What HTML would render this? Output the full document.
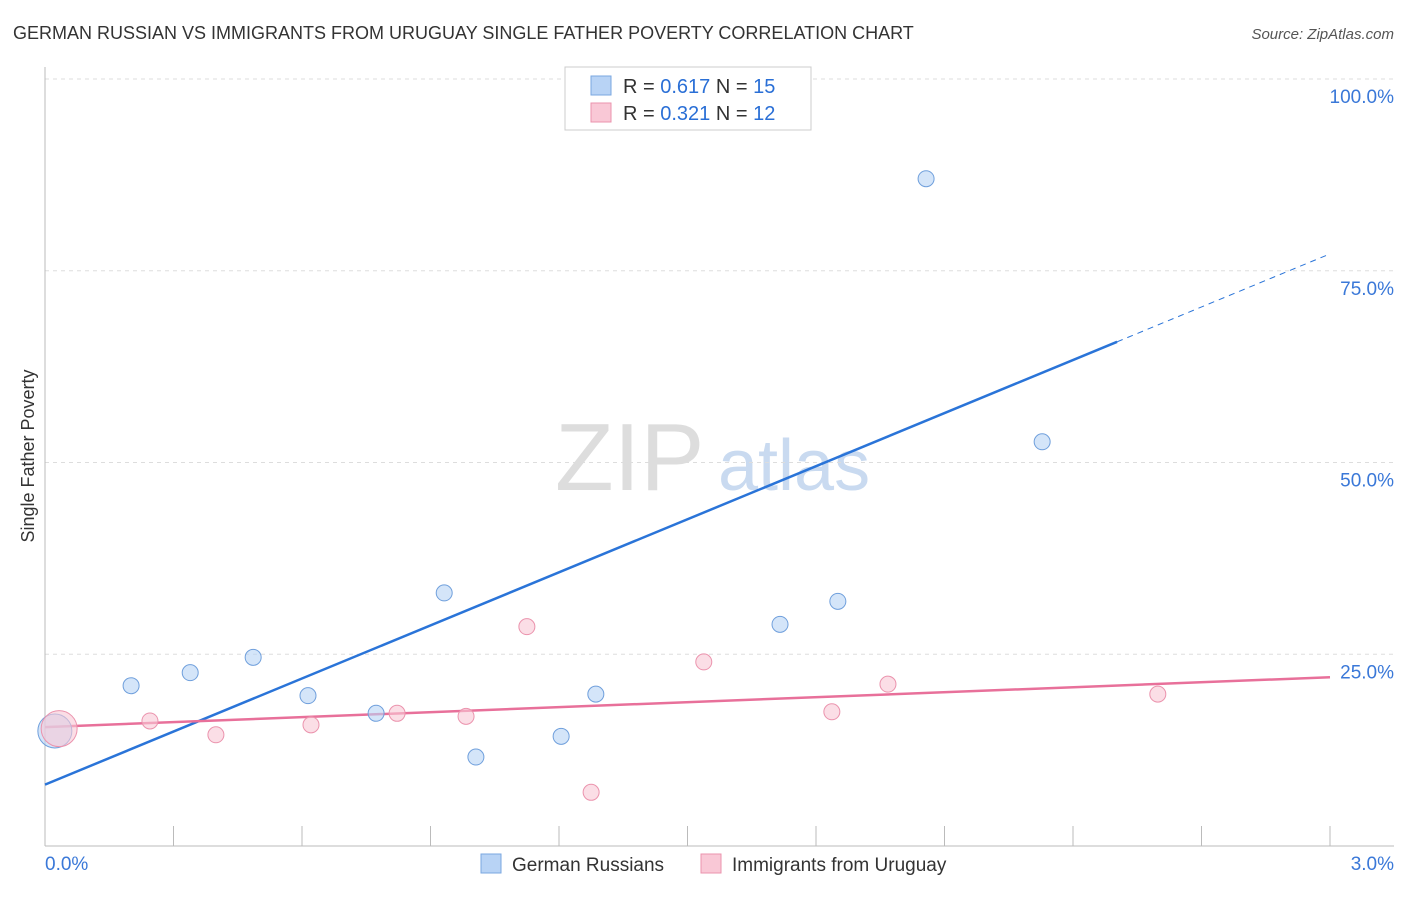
<!DOCTYPE html>
<html><head><meta charset="utf-8"><style>
body{margin:0;background:#fff;font-family:"Liberation Sans",sans-serif;}
svg text{font-family:"Liberation Sans",sans-serif;}
</style></head><body>
<svg id="chart" width="1406" height="892" xmlns="http://www.w3.org/2000/svg">
<text x="13" y="39" font-size="18" fill="#333">GERMAN RUSSIAN VS IMMIGRANTS FROM URUGUAY SINGLE FATHER POVERTY CORRELATION CHART</text>
<text x="1394" y="39" font-size="15" fill="#555" text-anchor="end" font-style="italic">Source: ZipAtlas.com</text>
<text transform="translate(34,456) rotate(-90)" font-size="18" fill="#333" text-anchor="middle">Single Father Poverty</text>
<g><text x="555" y="490" font-size="96" fill="#ddd" font-family="Liberation Serif">ZIP</text><text x="718" y="490" font-size="72" fill="#c9daf0">atlas</text></g>
<g id="grid"></g><g id="axes"></g><g id="lines"></g><g id="pts"></g>
<g>
<rect x="565" y="67" width="246" height="63" fill="#fff" stroke="#ccc"/>
<rect x="591" y="76" width="20" height="19" fill="#b8d3f5" stroke="#7aa7e0"/>
<text x="623" y="93" font-size="20" fill="#333">R = <tspan fill="#2a6fd6">0.617</tspan>   N = <tspan fill="#2a6fd6">15</tspan></text>
<rect x="591" y="103" width="20" height="19" fill="#f9c8d6" stroke="#eb93ad"/>
<text x="623" y="120" font-size="20" fill="#333">R = <tspan fill="#2a6fd6">0.321</tspan>   N = <tspan fill="#2a6fd6">12</tspan></text>
</g>
<g>
<rect x="481" y="854" width="20" height="19" fill="#b8d3f5" stroke="#7aa7e0"/>
<text x="512" y="871" font-size="19" fill="#333">German Russians</text>
<rect x="701" y="854" width="20" height="19" fill="#f9c8d6" stroke="#eb93ad"/>
<text x="732" y="871" font-size="19" fill="#333">Immigrants from Uruguay</text>
</g>
</svg>
<script>
const blueX=[0.023,0.201,0.339,0.486,0.614,0.773,0.932,1.006,1.205,1.286,1.662,1.716,1.851,2.057,2.328];
const blueY=[15.0,20.9,22.6,24.6,19.6,17.3,33.0,11.6,14.3,19.8,100,28.9,31.9,87.0,52.7];
const pinkX=[0.033,0.245,0.399,0.621,0.822,0.983,1.125,1.275,1.538,1.837,1.968,2.598];
const pinkY=[15.3,16.3,14.5,15.8,17.3,16.9,28.6,7.0,24.0,17.5,21.1,19.8];
const yTicks=[25,50,75,100];
const xTickLabels=["0.0%","3.0%"];
const blueTrend=[8.0,77.2]; const blueSolidEnd=2.503;
const pinkTrend=[15.5,22.0];
const X=v=>45+v/3*1285, Y=v=>846-v/100*767;
const NS="http://www.w3.org/2000/svg";
function mk(p,t,a){const e=document.createElementNS(NS,t);for(const k in a)e.setAttribute(k,a[k]);document.getElementById(p).appendChild(e);return e;}
yTicks.forEach(t=>{
 const l=mk('grid','line',{x1:45,x2:1394,y1:Y(t),y2:Y(t),stroke:'#ddd','stroke-dasharray':'4,4'});
 
 
 const tx=mk('grid','text',{x:1394,y:Y(t)+24,'font-size':19,fill:'#3a78d8','text-anchor':'end'});
 tx.textContent=t.toFixed(1)+'%';
 
 
});
let ax=mk('axes','line',{x1:45,x2:45,y1:67,y2:846,stroke:'#bbb'});


ax=mk('axes','line',{x1:45,x2:1394,y1:846,y2:846,stroke:'#bbb'});


for(let i=0;i<=10;i++){const tk=mk('axes','line',{x1:X(i*0.3),x2:X(i*0.3),y1:826,y2:846,stroke:'#bbb'});
 
 }
[[0,'start',45],[3,'end',1394]].forEach((d,i)=>{const t=mk('axes','text',{x:d[2],y:870,'font-size':19,fill:'#3a78d8','text-anchor':d[1]});t.textContent=xTickLabels[i];
 
 });
const slope=(blueTrend[1]-blueTrend[0])/3;
let ln=mk('lines','line',{x1:X(0),y1:Y(blueTrend[0]),x2:X(blueSolidEnd),y2:Y(blueTrend[0]+slope*blueSolidEnd),stroke:'#2a74d8','stroke-width':2.5});


ln=mk('lines','line',{x1:X(blueSolidEnd),y1:Y(blueTrend[0]+slope*blueSolidEnd),x2:X(3),y2:Y(blueTrend[1]),stroke:'#2a74d8','stroke-width':1,'stroke-dasharray':'6,5'});


ln=mk('lines','line',{x1:X(0),y1:Y(pinkTrend[0]),x2:X(3),y2:Y(pinkTrend[1]),stroke:'#e8709a','stroke-width':2.5});


blueX.forEach((x,i)=>{const c=mk('pts','circle',{cx:X(x),cy:Y(blueY[i]),r:i==0?17:8,fill:'rgba(184,211,245,0.6)',stroke:'#6f9fdc','stroke-width':1});
 
 });
pinkX.forEach((x,i)=>{const c=mk('pts','circle',{cx:X(x),cy:Y(pinkY[i]),r:i==0?18:8,fill:'rgba(249,200,214,0.6)',stroke:'#eb93ad','stroke-width':1});
 
 });
</script>
</body></html>
